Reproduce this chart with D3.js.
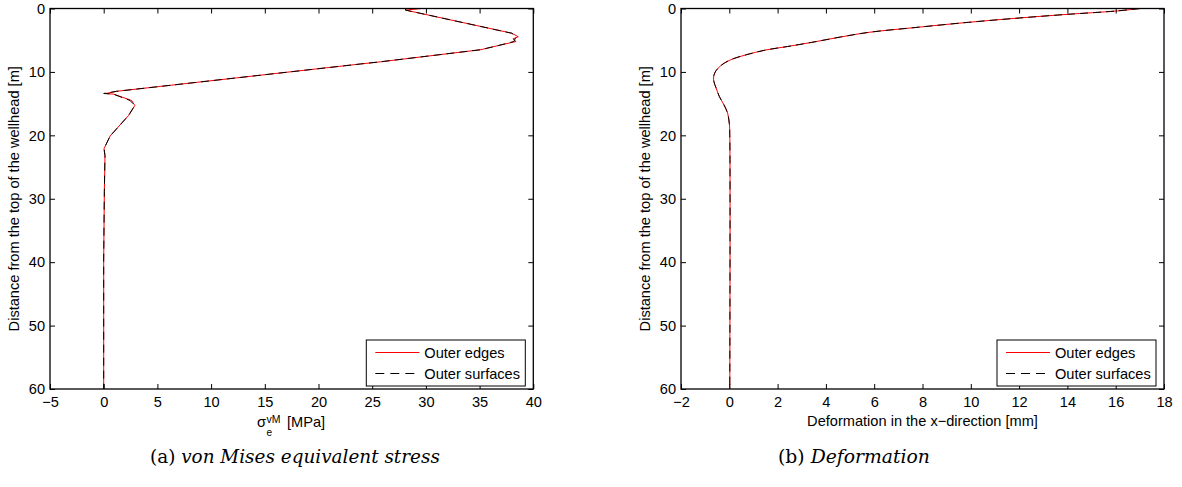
<!DOCTYPE html>
<html>
<head>
<meta charset="utf-8">
<script src="https://cdn.jsdelivr.net/npm/d3@7"></script>
<style>
  body { margin: 0; background: #fff; }
  svg { display: block; }
  .tick text { font-family: "Liberation Sans", Arial, sans-serif; font-size: 14.6px; fill: #000; }
  .lbl { font-family: "Liberation Sans", Arial, sans-serif; font-size: 14.6px; fill: #000; }
  .cap { font-family: "DejaVu Serif", "Liberation Serif", serif; font-size: 16px; fill: #000; }
</style>
</head>
<body>
<div id="chart"></div>
<script>
// ---------------- data
// (a) von Mises stress vs depth
const stressDepth = [0, 0.25, 3.9, 4.45, 4.8, 5.2, 5.9, 6.5, 8.4, 8.75, 13.06, 13.4, 13.5, 14.5, 15.3, 16.9, 20.1, 22.1, 23.2, 28.9, 39.5, 60]
const stressEdges = [29.6, 28.1, 38.0, 38.6, 38.1, 38.4, 36.6, 35.1, 25.8, 23.9, 1.2, 0.2, 0.9, 2.6, 2.9, 2.3, 0.6, 0.03, 0.12, 0.06, 0.0, 0.0]
const stressSurfaces = [28.1, 28.1, 38.0, 38.4, 38.3, 38.2, 36.6, 35.1, 25.8, 23.9, 1.2, 0.0, 0.9, 2.45, 2.9, 2.3, 0.6, 0.03, 0.12, 0.06, 0.0, 0.0]

// (b) deformation vs depth
const defDepth = [0, 0.4, 0.92, 1.5, 2.18, 3.0, 3.75, 4.5, 5.35, 6.0, 6.55, 7.3, 8.1, 9.0, 10.0, 10.8, 11.5, 12.5, 13.9, 15.2, 16.5, 18.1, 20, 60]
const defEdges = [17.05, 16.0, 14.0, 12.0, 9.9, 7.7, 5.8, 4.6, 3.4, 2.4, 1.5, 0.7, 0.05, -0.35, -0.58, -0.65, -0.64, -0.55, -0.41, -0.22, -0.07, 0.0, 0.02, 0.02]
const defSurfaces = [17.0, 16.0, 14.0, 12.0, 9.9, 7.7, 5.8, 4.6, 3.4, 2.4, 1.5, 0.7, 0.05, -0.35, -0.58, -0.65, -0.64, -0.55, -0.41, -0.22, -0.07, 0.0, 0.02, 0.02]

const depthTicks = [0, 10, 20, 30, 40, 50, 60]
const stressTicks = [-5, 0, 5, 10, 15, 20, 25, 30, 35, 40]
const defTicks = [-2, 0, 2, 4, 6, 8, 10, 12, 14, 16, 18]
const legendNames = ["Outer edges", "Outer surfaces"]
const captionA = ["(a) ", "von Mises equivalent stress"]
const captionB = ["(b) ", "Deformation"]

// ---------------- dimensions
const dimensions = { width: 1182, height: 487 }
const plotTop = 8.5, plotBottom = 389

const wrapper = d3.select("#chart")
    .append("svg")
    .attr("width", dimensions.width)
    .attr("height", dimensions.height)

const depthScale = d3.scaleLinear().domain([0, 60]).range([plotTop, plotBottom])

function drawPanel(cfg) {
    const xScale = d3.scaleLinear().domain(cfg.domain).range(cfg.range)
    const g = wrapper.append("g")

    const series = [
        cfg.depth.map((d, i) => ({ depth: d, value: cfg.edges[i] })),
        cfg.depth.map((d, i) => ({ depth: d, value: cfg.surfaces[i] }))
    ]

    const lineGenerator = d3.line()
        .x(d => xScale(d.value))
        .y(d => depthScale(d.depth))
        .curve(cfg.curve)

    g.append("path")
        .attr("d", lineGenerator(series[0]))
        .attr("fill", "none")
        .attr("stroke", "#ff0000")
        .attr("stroke-width", 1)

    g.append("path")
        .attr("d", lineGenerator(series[1]))
        .attr("fill", "none")
        .attr("stroke", "#000")
        .attr("stroke-width", 1)
        .attr("stroke-dasharray", "8,5")

    // axes (ticks point inward on all four sides)
    const bottomAxis = g.append("g")
        .attr("transform", `translate(0,${plotBottom})`)
        .call(d3.axisBottom(xScale).tickValues(cfg.ticks).tickSizeInner(-5).tickSizeOuter(0).tickPadding(8))
    const topAxis = g.append("g")
        .attr("transform", `translate(0,${plotTop})`)
        .call(d3.axisTop(xScale).tickValues(cfg.ticks).tickSizeInner(-5).tickSizeOuter(0).tickFormat(""))
    const leftAxis = g.append("g")
        .attr("transform", `translate(${cfg.range[0]},0)`)
        .call(d3.axisLeft(depthScale).tickValues(depthTicks).tickSizeInner(-5).tickSizeOuter(0).tickPadding(5))
    const rightAxis = g.append("g")
        .attr("transform", `translate(${cfg.range[1]},0)`)
        .call(d3.axisRight(depthScale).tickValues(depthTicks).tickSizeInner(-5).tickSizeOuter(0).tickFormat(""))

    ;[bottomAxis, topAxis, leftAxis, rightAxis].forEach(a => {
        a.select(".domain").remove()
        a.selectAll(".tick line").attr("stroke", "#000").attr("stroke-width", 1)
        a.attr("font-size", null).attr("font-family", null)
    })

    g.append("rect")
        .attr("x", cfg.range[0])
        .attr("y", plotTop)
        .attr("width", cfg.range[1] - cfg.range[0])
        .attr("height", plotBottom - plotTop)
        .attr("fill", "none")
        .attr("stroke", "#000")
        .attr("stroke-width", 1.3)

    // y title
    g.append("text")
        .attr("class", "lbl")
        .attr("text-anchor", "middle")
        .attr("transform", `translate(${cfg.range[0] - 36},${(plotTop + plotBottom) / 2}) rotate(-90)`)
        .attr("dy", "0.35em")
        .text("Distance from the top of the wellhead [m]")

    // legend
    const lw = 159, lh = 46
    const lx = cfg.range[1] - 8 - lw, ly = plotBottom - 3 - lh
    const legend = g.append("g").attr("transform", `translate(${lx},${ly})`)
    legend.append("rect")
        .attr("width", lw).attr("height", lh)
        .attr("fill", "#fff").attr("stroke", "#000").attr("stroke-width", 1)
    legendNames.forEach((name, i) => {
        const yy = 12.5 + i * 21
        legend.append("line")
            .attr("x1", 9).attr("x2", 53).attr("y1", yy).attr("y2", yy)
            .attr("stroke", i === 0 ? "#ff0000" : "#000")
            .attr("stroke-width", 1)
            .attr("stroke-dasharray", i === 0 ? null : "9,6")
        legend.append("text")
            .attr("class", "lbl")
            .attr("x", 58).attr("y", yy).attr("dy", "0.35em")
            .text(name)
    })
    return g
}

// ---------------- left panel
const left = drawPanel({
    domain: [-5, 40], range: [50, 533.3], ticks: stressTicks,
    depth: stressDepth, edges: stressEdges, surfaces: stressSurfaces,
    curve: d3.curveLinear
})

// sigma_e^vM [MPa]
const sigX = 257
left.append("text").attr("class", "lbl").attr("x", sigX).attr("y", 427).text("σ")
left.append("text").attr("class", "lbl").style("font-size", "10px")
    .attr("x", 266.5).attr("y", 436).text("e")
left.append("text").attr("class", "lbl").style("font-size", "10.5px")
    .attr("x", 266.5).attr("y", 422.5).text("vM")
left.append("text").attr("class", "lbl")
    .attr("x", 287).attr("y", 427).text("[MPa]")

// ---------------- right panel
const right = drawPanel({
    domain: [-2, 18], range: [681, 1164], ticks: defTicks,
    depth: defDepth, edges: defEdges, surfaces: defSurfaces,
    curve: d3.curveCatmullRom.alpha(0.5)
})
right.append("text")
    .attr("class", "lbl")
    .attr("text-anchor", "middle")
    .attr("x", (681 + 1164) / 2).attr("y", 426)
    .text("Deformation in the x\u2212direction [mm]")

// ---------------- captions (font size fitted to the width seen in the picture)
function caption(parts, x, width) {
    const t = wrapper.append("text").attr("class", "cap").attr("x", x).attr("y", 463)
    t.append("tspan").text(parts[0])
    t.append("tspan").attr("font-style", "italic").text(parts[1])
    const natural = t.node().getComputedTextLength()
    t.style("font-size", (16 * width / natural).toFixed(2) + "px")
}
caption(captionA, 150, 290)
caption(captionB, 778, 152)
</script>
</body>
</html>
